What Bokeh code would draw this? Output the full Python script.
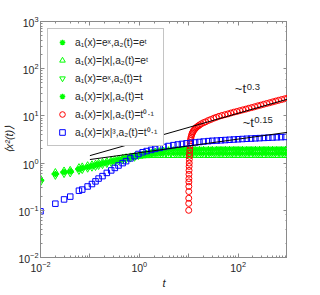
from bokeh.plotting import figure
from bokeh.models import LogAxis, Legend, LegendItem, Label
from bokeh.embed import file_html
from bokeh.resources import INLINE

# common sampling times
t = [0.01, 0.02, 0.03, 0.04, 0.06, 0.07, 0.09, 0.11, 0.13, 0.15, 0.18, 0.22, 0.27, 0.32,
     0.38, 0.46, 0.54, 0.66, 0.8, 0.96, 1.17, 1.41, 1.74, 2.1, 2.6, 3.1, 3.9, 4.9, 6, 7.3,
     9, 11, 13.5, 16.5, 20, 25, 30, 37, 45, 55, 67, 82, 100, 122, 150, 183, 224, 273, 334,
     408, 498, 608, 743, 907]

# a1=e^x, a2=e^t
g_exp_exp = [0.43, 0.59, 0.64, 0.66, 0.75, 0.78, 0.83, 0.87, 0.9, 0.94, 0.98, 1.03, 1.08,
             1.12, 1.17, 1.22, 1.27, 1.33, 1.38,
             1.45, 1.55, 1.63, 1.72, 1.8, 1.86, 1.9, 1.93, 1.95, 1.96, 1.97, 1.97, 1.98,
             1.98, 1.98, 1.99, 1.99, 1.99, 2.0, 2.0, 2.0, 2.0, 2.0, 2.0, 2.0, 2.0, 2.0,
             2.0, 2.0, 2.0, 2.0, 2.0, 2.0, 2.0, 2.0]
# a1=|x|, a2=e^t
g_abs_exp = [0.46, 0.63, 0.68, 0.70, 0.80, 0.83, 0.88, 0.92, 0.95, 0.99, 1.03, 1.08, 1.13,
             1.17, 1.21, 1.26, 1.3, 1.35, 1.39,
             1.4, 1.43, 1.44, 1.45, 1.45, 1.45, 1.46, 1.45, 1.45, 1.46, 1.45, 1.45, 1.46,
             1.45, 1.45, 1.46, 1.45, 1.45, 1.46, 1.45, 1.45, 1.46, 1.45, 1.45, 1.46, 1.45,
             1.45, 1.46, 1.45, 1.45, 1.46, 1.45, 1.45, 1.46, 1.45]
# a1=e^x, a2=t
g_exp_lin = [0.40, 0.55, 0.60, 0.62, 0.70, 0.73, 0.78, 0.82, 0.85, 0.89, 0.93, 0.98, 1.03,
             1.07, 1.12, 1.17, 1.22, 1.28, 1.33,
             1.45, 1.52, 1.58, 1.64, 1.69, 1.73, 1.76, 1.78, 1.79, 1.8, 1.8, 1.79, 1.8,
             1.8, 1.81, 1.8, 1.8, 1.79, 1.8, 1.8, 1.81, 1.8, 1.8, 1.79, 1.8, 1.8, 1.81,
             1.8, 1.8, 1.79, 1.8, 1.8, 1.81, 1.8, 1.8]
# a1=|x|, a2=t
g_abs_lin = [0.44, 0.58, 0.65, 0.67, 0.74, 0.79, 0.82, 0.88, 0.91, 0.93, 0.99, 1.02, 1.09,
             1.11, 1.18, 1.21, 1.28, 1.32, 1.39,
             1.42, 1.48, 1.52, 1.55, 1.57, 1.59, 1.6, 1.6, 1.61, 1.6, 1.6, 1.61, 1.6,
             1.6, 1.61, 1.6, 1.6, 1.61, 1.6, 1.6, 1.61, 1.6, 1.6, 1.61, 1.6, 1.6, 1.61,
             1.6, 1.6, 1.61, 1.6, 1.6, 1.61, 1.6, 1.6]
# a1=|x|^3, a2=t^0.1
b_cub_pow = [0.095, 0.138, 0.17, 0.195, 0.26, 0.275, 0.32, 0.36, 0.41, 0.47, 0.53, 0.62,
             0.70, 0.79, 0.89, 1.0, 1.1, 1.26, 1.4, 1.56, 1.7, 1.8, 1.9, 2.0, 2.1, 2.2, 2.3,
             2.4, 2.48, 2.55, 2.62, 2.68, 2.74, 2.8, 2.86, 2.92, 2.97, 3.0, 3.04, 3.08,
             3.12, 3.16, 3.2, 3.24, 3.28, 3.31, 3.35, 3.38, 3.42, 3.45, 3.48, 3.52, 3.55,
             3.58]

# a1=|x|, a2=t^0.1 (starts at t=10)
t_red = [10.0, 10.01, 10.02, 10.04, 10.06, 10.08, 10.1, 10.13, 10.16, 10.2, 10.25, 10.3,
         10.35, 10.4, 10.5, 10.6, 10.7, 10.85, 11, 11.2, 11.5, 11.8, 12.2, 12.6, 13.2, 13.8,
         14.5, 15.5, 16.5, 18, 20, 22, 25, 28, 32, 36, 41, 47, 54, 62, 71, 82, 94, 108, 124,
         143, 164, 188, 216, 249, 286, 329, 378, 435, 500, 575, 661, 760, 874, 1000]
r_abs_pow = [0.1, 0.14, 0.18, 0.25, 0.32, 0.4, 0.47, 0.58, 0.7, 0.85, 1.0, 1.2, 1.4, 1.6,
             1.9, 2.3, 2.7, 3.0, 3.3, 3.6, 4.0, 4.3, 4.6, 4.9, 5.2, 5.5, 5.8, 6.1, 6.4, 6.8,
             7.2, 7.5, 8.0, 8.4, 8.9, 9.3, 9.8, 10.2, 10.6, 11.0, 11.5, 12.0, 12.4, 12.9,
             13.4, 13.9, 14.5, 15.0, 15.6, 16.3, 16.9, 17.6, 18.3, 19.0, 19.8, 20.6, 21.4,
             22.2, 23.0, 23.8]

# reference power-law guide lines
ref_t = [0.1, 1000]
ref_03 = [1.44, 22.6]
ref_015 = [1.19, 4.49]

labels = ["a₁(x)=eˣ,a₂(t)=eᵗ", "a₁(x)=|x|,a₂(t)=eᵗ", "a₁(x)=eˣ,a₂(t)=t",
          "a₁(x)=|x|,a₂(t)=t", "a₁(x)=|x|,a₂(t)=t⁰·¹", "a₁(x)=|x|³,a₂(t)=t⁰·¹"]

for arr in [g_exp_exp, g_abs_exp, g_exp_lin, g_abs_lin, b_cub_pow]:
    assert len(arr) == len(t), len(arr)
assert len(t_red) == len(r_abs_pow)

FONT = "Liberation Sans"
AX = "#8a8a8a"
TXT = "#262626"

p = figure(frame_width=247, frame_height=236, x_axis_type="log", y_axis_type="log",
           x_range=(1e-2, 1e3), y_range=(1e-2, 1e3),
           output_backend="svg", toolbar_location=None,
           min_border_left=0, min_border_right=0, min_border_top=21, min_border_bottom=0)
p.xgrid.visible = False
p.ygrid.visible = False
p.outline_line_color = AX
p.background_fill_color = "white"

G = "#00ff00"
r1 = p.scatter(t, g_exp_exp, marker="asterisk", size=6, line_color=G, line_width=1.3)
r2 = p.scatter(t, g_abs_exp, marker="triangle", size=7, line_color=G, fill_color=None, line_width=1)
r3 = p.scatter(t, g_exp_lin, marker="inverted_triangle", size=7, line_color=G, fill_color=None, line_width=1)
r4 = p.scatter(t, g_abs_lin, marker="asterisk", size=6, line_color=G, line_width=1.3)
r5 = p.scatter(t_red, r_abs_pow, marker="circle", size=6, line_color="#ff0000", fill_color=None, line_width=1)
r6 = p.scatter(t, b_cub_pow, marker="square", size=5.5, line_color="#0000ff", fill_color=None, line_width=1)
p.line(ref_t, ref_03, line_color="black", line_width=1)
p.line(ref_t, ref_015, line_color="black", line_width=1)

for ax in [p.xaxis[0], p.yaxis[0]]:
    ax.major_tick_in = 4
    ax.major_tick_out = 0
    ax.minor_tick_in = 2
    ax.minor_tick_out = 0
    ax.axis_line_color = AX
    ax.major_tick_line_color = AX
    ax.minor_tick_line_color = AX
    ax.major_label_text_font = FONT
    ax.major_label_text_font_size = "10.5px"
    ax.major_label_text_color = TXT
    ax.axis_label_text_font = FONT
    ax.axis_label_text_font_size = "11px"
    ax.axis_label_text_font_style = "italic"
    ax.axis_label_text_color = TXT
p.xaxis[0].major_label_standoff = 3
p.xaxis[0].axis_label = "t"
p.xaxis[0].axis_label_standoff = 1
p.xaxis[0].major_label_overrides = {0.1: " ", 10: " ", 1000: " "}
p.yaxis[0].major_label_standoff = 2
p.yaxis[0].axis_label = "⟨x²(t)⟩"
p.yaxis[0].axis_label_standoff = 0

top = LogAxis()
right = LogAxis()
for ax in [top, right]:
    ax.major_tick_in = 4
    ax.major_tick_out = 0
    ax.minor_tick_in = 2
    ax.minor_tick_out = 0
    ax.axis_line_color = AX
    ax.major_tick_line_color = AX
    ax.minor_tick_line_color = AX
    ax.major_label_text_font_size = "5px"
    ax.major_label_text_alpha = 0
    ax.major_label_standoff = 0
p.add_layout(top, "above")
p.add_layout(right, "right")

legend = Legend(items=[LegendItem(label=l, renderers=[r]) for l, r in
                       zip(labels, [r1, r2, r3, r4, r5, r6])],
                location="top_left", margin=7, padding=6, spacing=4,
                glyph_width=16, glyph_height=14, label_height=14, label_standoff=5,
                label_text_font=FONT, label_text_font_size="10.2px", label_text_color=TXT,
                border_line_color=AX, border_line_width=1, background_fill_alpha=1)
p.add_layout(legend)

p.add_layout(Label(x=86, y=26, text="~t", text_font=FONT, text_font_size="13px",
                   text_color=TXT))
p.add_layout(Label(x=150, y=35, text="0.3", text_font=FONT, text_font_size="9.5px",
                   text_color=TXT))
p.add_layout(Label(x=124, y=5.0, text="~t", text_font=FONT, text_font_size="13px",
                   text_color=TXT))
p.add_layout(Label(x=212, y=7.0, text="0.15", text_font=FONT, text_font_size="9.5px",
                   text_color=TXT))

open("out.html", "w").write(file_html(p, INLINE))
